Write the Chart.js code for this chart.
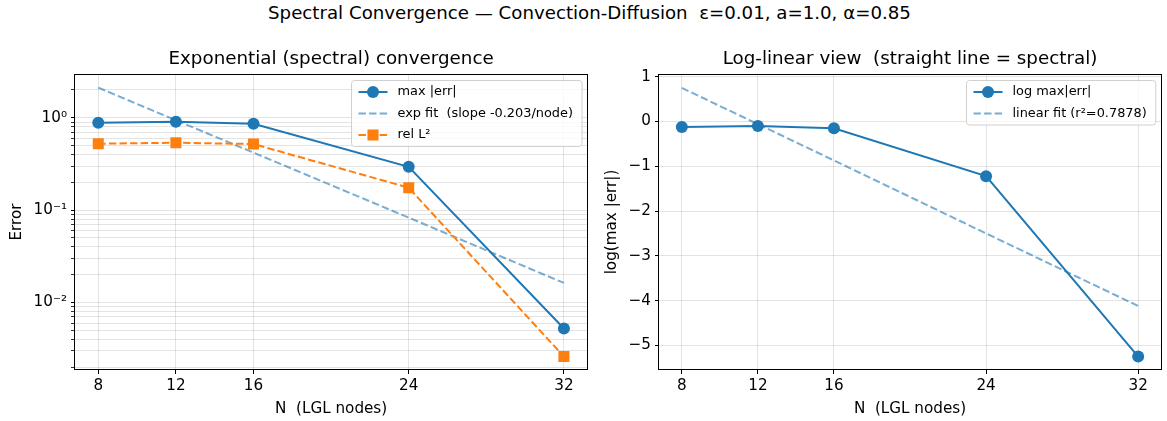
<!DOCTYPE html>
<html>
<head>
<meta charset="utf-8">
<script src="https://cdn.jsdelivr.net/npm/chart.js@4.4.1/dist/chart.umd.min.js"></script>
<style>
  body { margin: 0; background: #fff; }
  #wrap { position: relative; width: 1167px; height: 421px; font-family: "DejaVu Sans", sans-serif; }
  #suptitle { position: absolute; left: 6px; top: 2px; width: 1167px; text-align: center; font-size: 18.2px; color: #000; white-space: pre; }
  canvas { position: absolute; top: 0; }
</style>
</head>
<body>
<div id="wrap">
  <div id="suptitle">Spectral Convergence — Convection-Diffusion  ε=0.01, a=1.0, α=0.85</div>
  <canvas id="errChart" width="595" height="421" style="left:0"></canvas>
  <canvas id="logChart" width="572" height="421" style="left:595px"></canvas>
</div>
<script>
// values
const nodes = [8, 12, 16, 24, 32]
const maxErr = [0.883, 0.905, 0.86, 0.295, 0.00524]
const relL2 = [0.524, 0.537, 0.52, 0.175, 0.0026]
const expFit = [2.12, 0.94, 0.42, 0.083, 0.0163]
const logMaxErr = [-0.124, -0.1, -0.151, -1.221, -5.251]
const linFit = [0.75, -0.06, -0.87, -2.5, -4.12]
const errDecades = [0.001, 0.01, 0.1, 1]
const logTicks = [-5, -4, -3, -2, -1, 0, 1]

const BLUE = "#1f77b4"
const ORANGE = "#ff7f0e"
const FIT = "rgba(31,119,180,0.6)"
const GRID = "rgba(176,176,176,0.35)"
const FONT = "DejaVu Sans"
const SUP = { "-": "⁻", "0": "⁰", "1": "¹", "2": "²", "3": "³", "4": "⁴" }

const pts = (ys) => nodes.map((x, i) => ({ x, y: ys[i] }))

// subplot title, full frame and an in-axes legend, drawn like matplotlib does
const decor = {
  id: "decor",
  afterDraw(chart) {
    const o = chart.options.plugins.decor
    const ctx = chart.ctx
    const a = chart.chartArea
    ctx.save()
    ctx.font = `18.3px "${FONT}"`
    ctx.fillStyle = "#000"
    ctx.textAlign = "center"
    ctx.textBaseline = "middle"
    ctx.fillText(o.title, (a.left + a.right) / 2, 59)

    ctx.strokeStyle = "#000"
    ctx.lineWidth = 1
    ctx.strokeRect(Math.round(a.left) - 0.5, Math.round(a.top) + 0.5, Math.round(a.width) + 1, Math.round(a.height) - 1)

    ctx.font = `12.9px "${FONT}"`
    const sets = chart.data.datasets
    const tw = Math.max(...sets.map((d) => ctx.measureText(d.label).width))
    const rowH = 21.5
    const w = 7 + 29 + 10 + tw + 9
    const h = 23 + rowH * (sets.length - 1)
    const x0 = Math.round(a.right - 6 - w) + 0.5
    const y0 = Math.round(a.top + 6) + 0.5
    ctx.beginPath()
    ctx.roundRect(x0, y0, w, h, 3)
    ctx.fillStyle = "rgba(255,255,255,0.8)"
    ctx.fill()
    ctx.strokeStyle = "#d0d0d0"
    ctx.stroke()
    sets.forEach((d, i) => {
      const y = y0 + 11.5 + i * rowH
      const lx = x0 + 7
      ctx.beginPath()
      ctx.setLineDash(d.borderDash || [])
      ctx.strokeStyle = d.borderColor
      ctx.lineWidth = d.borderWidth
      ctx.moveTo(lx, y)
      ctx.lineTo(lx + 29, y)
      ctx.stroke()
      ctx.setLineDash([])
      if (d.pointRadius > 0) {
        ctx.fillStyle = d.pointBackgroundColor
        if (d.pointStyle === "rect") {
          const s = d.pointRadius * Math.SQRT1_2
          ctx.fillRect(lx + 14.5 - s, y - s, 2 * s, 2 * s)
        } else {
          ctx.beginPath()
          ctx.arc(lx + 14.5, y, d.pointRadius, 0, Math.PI * 2)
          ctx.fill()
        }
      }
      ctx.fillStyle = "#000"
      ctx.textAlign = "left"
      ctx.textBaseline = "middle"
      ctx.fillText(d.label, lx + 39, y)
    })
    ctx.restore()
  },
}

const tickFont = { family: FONT, size: 15.2 }
const titleFont = { family: FONT, size: 15.2 }

function xScale() {
  return {
    type: "linear",
    min: 6.8,
    max: 33.2,
    afterBuildTicks: (s) => { s.ticks = nodes.map((v) => ({ value: v })) },
    afterFit: (s) => { s.height = 51 },
    ticks: { font: tickFont, color: "#000", padding: 3, autoSkip: false, maxRotation: 0 },
    grid: { color: GRID, tickLength: 4, tickColor: "#000" },
    border: { display: false },
    title: { display: true, text: "N  (LGL nodes)", font: titleFont, color: "#000", padding: { top: 0, bottom: 3 } },
  }
}

const lineSet = (label, data, color, extra) => Object.assign({
  label,
  data,
  borderColor: color,
  backgroundColor: color,
  pointBackgroundColor: color,
  borderWidth: 2,
  pointRadius: 6,
  pointHoverRadius: 6,
  pointBorderWidth: 0,
  pointStyle: "circle",
  tension: 0,
  fill: false,
}, extra)

const common = {
  responsive: false,
  animation: false,
  events: [],
  devicePixelRatio: 1,
}

new Chart(document.getElementById("errChart"), {
  type: "line",
  data: {
    datasets: [
      lineSet("max |err|", pts(maxErr), BLUE, { order: 3 }),
      lineSet("exp fit  (slope -0.203/node)", pts(expFit), FIT, { order: 2, borderDash: [7.4, 3.2], pointRadius: 0, borderWidth: 2 }),
      lineSet("rel L²", pts(relL2), ORANGE, { order: 1, borderDash: [7.4, 3.2], pointStyle: "rect", pointRadius: 7.8, pointHoverRadius: 7.8 }),
    ],
  },
  options: {
    ...common,
    layout: { padding: { top: 74, right: 7, left: 0, bottom: 0 } },
    plugins: {
      legend: { display: false },
      tooltip: { enabled: false },
      decor: { title: "Exponential (spectral) convergence" },
    },
    scales: {
      x: xScale(),
      y: {
        type: "logarithmic",
        min: 0.00186,
        max: 2.98,
        afterBuildTicks: (s) => {
          const t = []
          errDecades.forEach((d) => {
            for (let k = 1; k < 10; k++) {
              const v = d * k
              if (v >= s.min && v <= s.max) t.push({ value: v, major: k === 1 })
            }
          })
          s.ticks = t
        },
        afterFit: (s) => { s.width = 75 },
        ticks: {
          font: tickFont,
          color: "#000",
          padding: 4,
          autoSkip: false,
          callback: (v, i, t) => {
            if (!t[i].major) return ""
            const e = String(Math.round(Math.log10(v)))
            return "10" + e.split("").map((c) => SUP[c]).join("")
          },
        },
        grid: {
          color: GRID,
          tickLength: 4,
          tickColor: (c) => (c.tick && c.tick.major ? "#000" : "#333"),
        },
        border: { display: false },
        title: { display: true, text: "Error", font: titleFont, color: "#000", padding: { top: 8, bottom: 0 } },
      },
    },
  },
  plugins: [decor],
})

new Chart(document.getElementById("logChart"), {
  type: "line",
  data: {
    datasets: [
      lineSet("log max|err|", pts(logMaxErr), BLUE, { order: 2 }),
      lineSet("linear fit (r²=0.7878)", pts(linFit), FIT, { order: 1, borderDash: [7.4, 3.2], pointRadius: 0, borderWidth: 2 }),
    ],
  },
  options: {
    ...common,
    layout: { padding: { top: 74, right: 2, left: 0, bottom: 0 } },
    plugins: {
      legend: { display: false },
      tooltip: { enabled: false },
      decor: { title: "Log-linear view  (straight line = spectral)" },
    },
    scales: {
      x: xScale(),
      y: {
        type: "linear",
        min: -5.55,
        max: 1.06,
        afterBuildTicks: (s) => { s.ticks = logTicks.map((v) => ({ value: v })) },
        afterFit: (s) => { s.width = 64 },
        ticks: {
          font: tickFont,
          color: "#000",
          padding: 4,
          autoSkip: false,
          callback: (v) => String(v).replace("-", "−"),
        },
        grid: { color: GRID, tickLength: 4, tickColor: "#000" },
        border: { display: false },
        title: { display: true, text: "log(max |err|)", font: titleFont, color: "#000", padding: { top: 8, bottom: 0 } },
      },
    },
  },
  plugins: [decor],
})
</script>
</body>
</html>
